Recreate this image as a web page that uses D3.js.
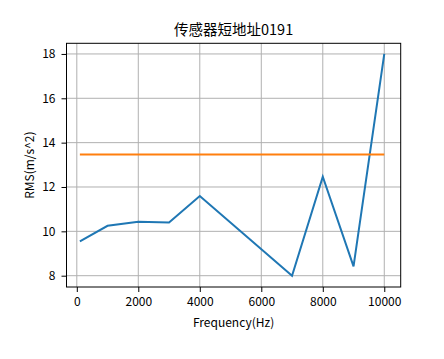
<!DOCTYPE html>
<html><head><meta charset="utf-8">
<script src="https://cdn.jsdelivr.net/npm/d3@7"></script>
<style>
body{margin:0;background:#fff;}
text{font-family:"Noto Sans CJK SC","DejaVu Sans",sans-serif;fill:#000;}
</style></head>
<body><svg id="c" width="444" height="359"></svg>
<script>
const title = "传感器短地址0191";
const xLabel = "Frequency(Hz)";
const yLabel = "RMS(m/s^2)";
const freqs = [100, 1000, 2000, 3000, 4000, 7000, 8000, 9000, 10000];
const rms = [9.55, 10.25, 10.43, 10.40, 11.59, 8.0, 12.46, 8.42, 18.0];
const meanFreqs = [100, 10000];
const meanVals = [13.46, 13.46];
const xTicks = [0, 2000, 4000, 6000, 8000, 10000];
const yTicks = [8, 10, 12, 14, 16, 18];

const L = 66.5, R = 400.7, T = 43.3, B = 287;
const svg = d3.select("#c");
const x = d3.scaleLinear().domain([-335, 10534]).range([L, R]);
const y = d3.scaleLinear().domain([7.49, 18.48]).range([B, T]);

const g = svg.append("g");
// grid
g.selectAll(".gx").data(xTicks).enter().append("line")
 .attr("x1", d => x(d)).attr("x2", d => x(d)).attr("y1", T).attr("y2", B)
 .attr("stroke", "#b0b0b0").attr("stroke-width", 1);
g.selectAll(".gy").data(yTicks).enter().append("line")
 .attr("y1", d => y(d)).attr("y2", d => y(d)).attr("x1", L).attr("x2", R)
 .attr("stroke", "#b0b0b0").attr("stroke-width", 1);

const line = d3.line().x(d => x(d[0])).y(d => y(d[1]));
g.append("path").datum(freqs.map((f, i) => [f, rms[i]])).attr("d", line)
 .attr("fill", "none").attr("stroke", "#1f77b4").attr("stroke-width", 2);
g.append("path").datum(meanFreqs.map((f, i) => [f, meanVals[i]])).attr("d", line)
 .attr("fill", "none").attr("stroke", "#ff7f0e").attr("stroke-width", 2);

// axes
const xa = svg.append("g").attr("transform", `translate(0,${B})`)
 .call(d3.axisBottom(x).tickValues(xTicks).tickSize(5).tickPadding(5).tickFormat(d3.format("d")));
const ya = svg.append("g").attr("transform", `translate(${L},0)`)
 .call(d3.axisLeft(y).tickValues(yTicks).tickSize(5).tickPadding(6).tickFormat(d3.format("d")));
[xa, ya].forEach(a => {
  a.select(".domain").remove();
  a.selectAll("text").attr("font-size", 12).attr("font-family", '"Noto Sans CJK SC",sans-serif');
  a.selectAll("line").attr("stroke", "#000").attr("stroke-width", 1);
});
svg.append("rect").attr("x", L).attr("y", T).attr("width", R - L).attr("height", B - T)
 .attr("fill", "none").attr("stroke", "#000").attr("stroke-width", 1);

svg.append("text").attr("x", (L + R) / 2).attr("y", 35).attr("text-anchor", "middle")
 .attr("font-size", 14.5).text(title);
svg.append("text").attr("x", (L + R) / 2).attr("y", 327).attr("text-anchor", "middle")
 .attr("font-size", 12).text(xLabel);
svg.append("text").attr("transform", `translate(34,${(T + B) / 2}) rotate(-90)`)
 .attr("text-anchor", "middle").attr("font-size", 12).text(yLabel);
</script></body></html>
